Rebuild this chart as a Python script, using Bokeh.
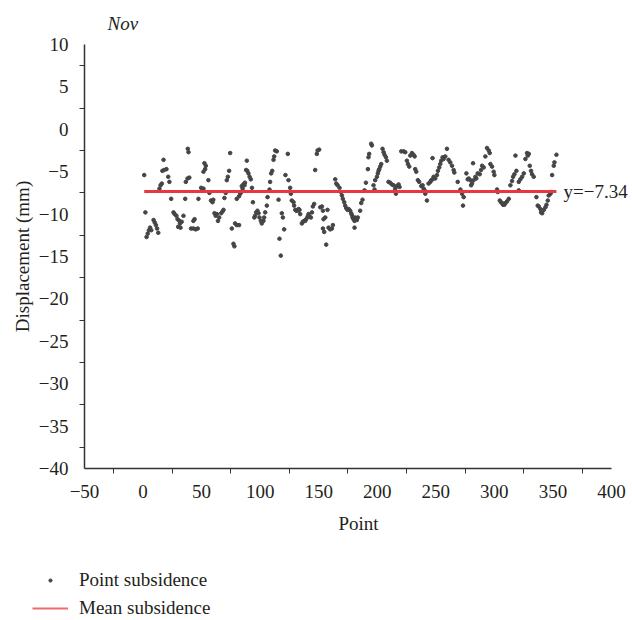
from bokeh.plotting import figure
from bokeh.models import FixedTicker, Label, Legend, LegendItem, Range1d
from bokeh.layouts import column
from bokeh.embed import file_html
from bokeh.resources import INLINE

point_x = [1, 2, 3, 4, 5, 6, 7, 9, 10, 11, 12, 13, 14, 15, 16, 16.5, 17.5, 18, 20, 21.5, 22.5, 24,
           26, 27, 28.5, 29.5, 31, 31.5, 30, 32, 33, 34.5, 36, 36.5, 38, 39.5, 38.2, 38.8,
           41, 43, 45, 46.7, 43, 44, 47.3, 49.6, 51.6, 51.6, 53, 52.4, 53.6, 55.8,
           56.7, 58, 59.3, 60, 61, 62, 63, 64, 65, 66.7, 67.8, 68.7, 69.5, 70.6,
           71.5, 72.4, 73.5, 74.4, 75.8, 77.2, 78, 78.6, 80, 82, 80, 82, 83.8, 85, 86.6,
           83, 84.3, 85.7, 87, 88.6, 88, 89, 90, 91, 92, 93, 93.8,
           95, 95.7, 96.6, 97.7, 98.6, 99.4, 100.6, 101.4, 102.8, 103.4,
           104.3, 105.7, 106.3, 108, 108.5, 109.4, 110.3, 111.4, 112, 112.8, 114.2,
           115.7, 116.5, 117.6, 118.5, 119.4, 120.5, 121.6, 123.6, 124.2,
           125.6, 126.2, 127, 128.5, 129, 130, 130.8, 132, 132.8, 133.6, 134.2,
           135.6, 136.5, 137.6, 138.5, 139.3, 140.5, 141.3, 142.2, 143.3, 144.2, 145, 146.1,
           147, 148.4, 149, 150.4, 151.3, 152.7, 153.6, 154.1, 155.6, 153.6, 154.7, 156.4,
           157.5, 158.4, 159.8, 161.3, 162.1,
           164.1, 165, 166.1, 167.8, 169, 169.8, 170.6, 171.8, 172.6, 173.5, 174.6, 175.5,
           176.9, 177.7, 178.3, 178.9, 179.7, 180.6, 181.1, 182.6, 183.4, 180.6,
           185.4, 186.3, 187.4, 189.1, 190.3, 192, 192.5, 193.1, 194.8, 195.4,
           196.8, 197.7, 198.2, 199.7, 200.5, 201.1, 201.7, 202.5, 203.4,
           204.5, 205.4, 206.2, 207.4, 208.2,
           209.6, 211, 212.5, 213.9, 215.3, 215.9, 216.8, 218.2, 219,
           220.5, 222.5, 223.9, 225.3, 226.2, 227.3, 228.2, 229.6, 231, 231.9, 232.4, 233.3,
           234.7, 235.8, 237.6, 238.7, 239.6, 240.4, 241, 242.4,
           243.8, 245.3, 246.1, 247.2, 248.1, 247.2,
           249.5, 251, 251.8, 252.9, 253.8, 254.6, 255.8, 256.6, 258.1, 259.5, 260.9, 262.3, 263.8, 265.2,
           265.8, 268.7, 271, 272.4, 273.8, 273.2,
           276.1, 277.2, 278.1, 279.5, 280.1, 280.9, 282.3, 283.8, 284.6, 285.8, 287.5, 288.6, 289.5,
           290.9, 292.3, 293.7, 295.2, 296, 296.6, 298, 299.4, 300, 281.8,
           302.3, 302.9, 304.6, 305.7, 306.6, 307.4, 308.6, 309.4, 310.8, 312.3,
           313.7, 315.1, 316, 317.1, 318.8, 320.8, 322.2, 323.7, 325.1, 318, 320.8,
           326.5, 327.9, 329.4, 328.5, 330.2, 331.3, 332.2, 333.6,
           335.9, 337, 337.9, 339.3, 339.9, 340.8, 342.2, 343.6, 344.5, 345.6, 346.4, 347.9, 348.4,
           349.3, 350.7, 351.3, 353]

point_y = [-5.4, -9.8, -12.7, -12.3, -11.9, -11.6, -11.9, -10.7, -11.0, -11.3, -11.7, -12.2, -7.0, -6.6, -6.4,
           -4.9, -3.6, -4.8, -4.7, -5.6, -6.2, -8.2,
           -9.8, -10.0, -10.2, -10.6, -10.8, -11.1, -11.5, -11.6, -10.9, -10.2, -8.2, -6.2, -5.8, -5.7, -2.3, -2.7,
           -11.7, -11.7, -11.8, -11.7, -10.8, -10.6, -8.2, -6.9, -7.0, -5.0, -4.7, -4.0, -4.3, -6.0,
           -7.5, -8.4, -8.6, -8.3, -9.9, -10.2, -10.0, -10.8, -10.4, -9.9, -9.7, -9.5, -8.1, -7.5,
           -6.0, -5.6, -4.9, -2.8, -11.7, -13.5, -13.8, -11.1, -11.3, -11.3, -8.2, -7.9, -7.4, -7.0, -6.6,
           -7.6, -6.7, -6.5, -6.3, -3.7, -4.8, -4.9, -5.2, -5.6, -5.9, -6.9, -8.6,
           -10.4, -10.2, -9.8, -9.6, -9.9, -10.4, -10.8, -11.1, -10.8, -10.4,
           -9.8, -9.0, -8.0, -7.1, -6.2, -5.2, -4.9, -3.6, -3.2, -2.5, -2.6,
           -8.3, -12.9, -14.9, -9.9, -10.4, -11.8, -5.4, -2.9, -6.0,
           -6.9, -7.6, -8.4, -8.6, -9.0, -9.5, -9.6, -9.6, -9.4, -9.5, -10.0,
           -11.1, -10.9, -10.8, -10.8, -10.6, -10.3, -10.0, -10.3, -10.4, -9.8, -9.1, -8.8,
           -4.8, -2.9, -2.5, -2.4, -9.2, -9.1, -9.6, -10.6, -10.4, -11.7, -12.1, -13.6,
           -9.5, -11.6, -11.8, -11.7, -11.3,
           -5.9, -6.4, -6.6, -6.9, -7.4, -7.8, -8.2, -8.6, -9.0, -9.3, -9.5, -9.4,
           -9.6, -9.9, -10.1, -10.4, -10.6, -10.8, -10.4, -10.7, -10.4, -11.6,
           -9.6, -8.7, -8.3, -7.2, -6.3, -4.7, -3.3, -2.9, -1.7, -1.9,
           -6.6, -7.1, -6.0, -5.6, -5.2, -4.9, -4.7, -4.4, -4.1,
           -2.3, -2.7, -3.0, -3.3, -3.7,
           -6.2, -6.3, -6.5, -6.6, -7.0, -7.6, -6.7, -6.5, -6.8,
           -2.6, -2.6, -2.7, -3.7, -4.1, -4.4, -3.1, -2.8, -3.0, -3.2, -4.7, -5.0,
           -6.0, -6.2, -6.7, -6.6, -7.0, -7.2, -7.6, -8.4,
           -6.4, -6.2, -6.0, -5.9, -5.6, -3.4,
           -5.8, -5.4, -4.9, -4.5, -4.1, -3.7, -3.3, -3.5, -3.2, -2.3, -3.6, -3.9, -4.3, -4.8,
           -5.1, -6.2, -7.1, -7.6, -8.0, -9.0,
           -5.2, -5.9, -5.8, -6.0, -6.6, -6.4, -6.0, -5.6, -5.8, -5.2, -5.3, -4.8, -4.3,
           -4.5, -3.2, -2.2, -2.5, -2.8, -4.1, -4.4, -5.0, -5.4, -4.0,
           -7.1, -7.4, -8.4, -8.6, -8.7, -8.9, -8.9, -8.7, -8.5, -8.2,
           -6.6, -6.1, -5.6, -5.3, -4.9, -6.2, -5.9, -5.6, -5.2, -3.1, -7.2,
           -3.5, -2.8, -2.9, -3.1, -4.3, -4.9, -5.3, -5.6,
           -8.0, -9.0, -9.1, -9.4, -9.8, -9.9, -9.5, -9.2, -8.9, -8.4, -7.8, -7.6, -7.4,
           -5.4, -4.3, -3.9, -3.0]

mean_value = -7.34
x_labels = [-50, 0, 50, 100, 150, 200, 250, 300, 350, 400]
y_labels = [10, 5, 0, -5, -10, -15, -20, -25, -30, -35, -40]
series_names = ["Point subsidence", "Mean subsidence"]
chart_title = "Nov"

FONT = "Liberation Serif"
TXT = "#231f20"
DOT = "#454545"
RED = "#e8383d"


def strip(height):
    f = figure(width=632, height=height, output_backend="svg", toolbar_location=None,
               x_range=Range1d(0, 632), y_range=Range1d(0, height),
               x_axis_location=None, y_axis_location=None,
               min_border=0, min_border_left=0, min_border_right=0, min_border_top=0, min_border_bottom=0)
    f.frame_align = False
    f.grid.visible = False
    f.outline_line_color = None
    f.background_fill_color = "white"
    f.border_fill_color = "white"
    return f


# title strip on top
top = strip(34)
top.add_layout(Label(x=107, y=11, x_units="screen", y_units="screen", text=chart_title,
                     text_font=FONT, text_font_style="italic", text_font_size="19px",
                     text_color=TXT, text_baseline="alphabetic"))

# main chart: frame spans the full width on the right so the end label fits,
# while the x axis line itself is bounded to -50..400
p = figure(width=632, height=506, output_backend="svg", toolbar_location=None,
           x_range=Range1d(-50, 400 + 21 / 58.5 * 50), y_range=Range1d(-40, 10),
           min_border_left=84, min_border_right=0, min_border_top=10, min_border_bottom=72)
p.frame_align = False
p.grid.visible = False
p.outline_line_color = None
p.background_fill_color = "white"
p.border_fill_color = "white"

p.scatter(point_x, point_y, size=3.6, color=DOT, marker="circle")
p.line([min(point_x), max(point_x)], [mean_value, mean_value], color=RED, line_width=3)

for ax, ticks in ((p.xaxis[0], x_labels), (p.yaxis[0], y_labels)):
    mids = [(a + b) / 2 for a, b in zip(ticks[:-1], ticks[1:])]
    ax.ticker = FixedTicker(ticks=ticks, minor_ticks=mids)
    ax.bounds = (min(ticks), max(ticks))
    ax.major_tick_out = 0
    ax.major_tick_in = 0
    ax.minor_tick_out = 5
    ax.minor_tick_in = 0
    ax.minor_tick_line_color = "#333333"
    ax.axis_line_color = "#333333"
    ax.axis_line_width = 1.5
    ax.major_label_text_font = FONT
    ax.major_label_text_font_size = "19px"
    ax.major_label_text_color = TXT
    ax.axis_label_text_font = FONT
    ax.axis_label_text_font_size = "19px"
    ax.axis_label_text_font_style = "normal"
    ax.axis_label_text_color = TXT
    ax.major_label_standoff = 11
    ax.major_label_overrides = {t: str(t).replace("-", "\u2212") for t in ticks}

p.xaxis.axis_label = "Point"
p.yaxis.axis_label = "Displacement (mm)"
p.xaxis.axis_label_standoff = 12
p.yaxis.axis_label_standoff = 3

p.add_layout(Label(x=359, y=mean_value, text="y=\u2212" + str(abs(mean_value)), text_font=FONT,
                   text_font_size="19px", text_color=TXT, text_baseline="middle"))

# legend strip below the chart
lg = strip(80)
# legend proxies: one point each, placed outside the strip's visible range
r_dot = lg.scatter([-10], [-10], size=3.6, color=DOT, marker="circle")
r_line = lg.line([-10, -5], [-10, -10], color=RED, line_width=2, line_alpha=0.75)
legend = Legend(items=[LegendItem(label=series_names[0], renderers=[r_dot]),
                       LegendItem(label=series_names[1], renderers=[r_line])],
                location=(32, 1), orientation="vertical",
                label_text_font=FONT, label_text_font_size="19px", label_text_color=TXT,
                glyph_width=36, glyph_height=8, label_height=20, spacing=6,
                label_standoff=11, padding=0, margin=0,
                border_line_color=None, background_fill_alpha=0)
lg.add_layout(legend, "center")

layout = column(top, p, lg, spacing=0)
open("out.html", "w").write(file_html(layout, INLINE))
